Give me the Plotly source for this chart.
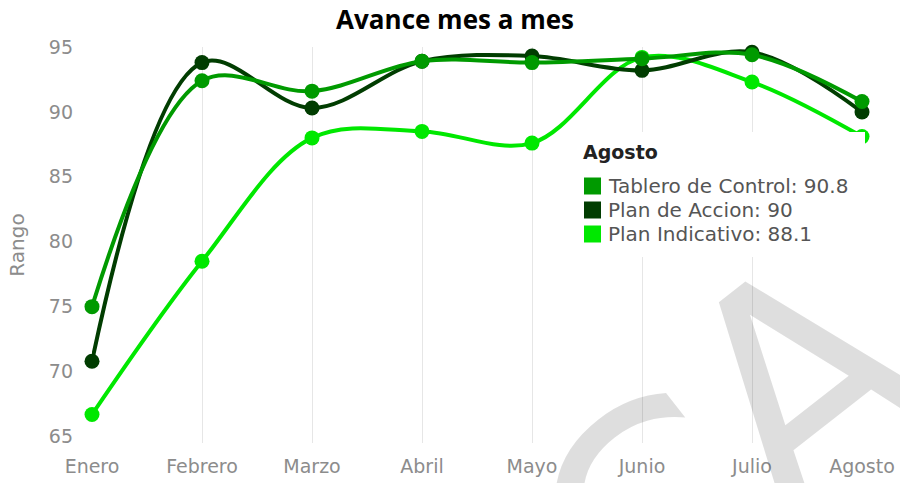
import plotly.graph_objects as go

months = ["Enero", "Febrero", "Marzo", "Abril", "Mayo", "Junio", "Julio", "Agosto"]
tablero = [75.0, 92.4, 91.6, 93.9, 93.8, 94.1, 94.4, 90.8]
accion = [70.8, 93.8, 90.3, 93.9, 94.3, 93.2, 94.6, 90.0]
indicativo = [66.7, 78.5, 88.0, 88.5, 87.6, 94.2, 92.3, 88.1]
y_ticks = [65, 70, 75, 80, 85, 90, 95]
watermark_letters = ["C", "A"]

series = [
    ("Tablero de Control", tablero, "#009a00"),
    ("Plan de Accion", accion, "#013d01"),
    ("Plan Indicativo", indicativo, "#00e800"),
]

fig = go.Figure()
# draw order: Indicativo bottom, Accion, Tablero top
for name, vals, col in [series[2], series[1], series[0]]:
    fig.add_trace(go.Scatter(
        x=months, y=vals, name=name, mode="lines+markers",
        line=dict(color=col, width=4, shape="spline", smoothing=1),
        marker=dict(color=col, size=15),
        cliponaxis=False, showlegend=False, hoverinfo="skip",
    ))

tick_font = dict(family="DejaVu Sans", size=19, color="#8c8c8c")

fig.update_layout(
    width=900, height=483,
    margin=dict(l=92, r=38, t=47, b=40),
    paper_bgcolor="white", plot_bgcolor="white",
    title=dict(text="<b>Avance mes a mes</b>", x=0.5056, xanchor="center",
               y=0.958, yanchor="middle",
               font=dict(family="Open Sans", size=26, color="black")),
    xaxis=dict(type="category", range=[0, 7], showgrid=True, gridcolor="#e6e6e6",
               gridwidth=1, zeroline=False, showline=False, ticks="",
               tickfont=tick_font, ticklabelstandoff=10, automargin=False),
    yaxis=dict(range=[64.5, 95], tickvals=y_ticks, showgrid=False, zeroline=False,
               showline=False, ticks="", tickfont=tick_font, ticklabelstandoff=18,
               automargin=False,
               title=dict(text="Rango", font=dict(family="DejaVu Sans", size=20, color="#8c8c8c"),
                          standoff=18)),
)

# tooltip-like box for the last month
W, H = 770.0, 396.0
def px(xp):
    return (xp - 92) / W
def py(yp):
    return (443 - yp) / H

fig.add_shape(type="rect", xref="paper", yref="paper", layer="above",
              x0=px(570), x1=px(865), y0=py(257), y1=py(132),
              fillcolor="white", line=dict(width=0))
fig.add_annotation(xref="paper", yref="paper", x=px(581), y=py(152), xanchor="left",
                   yanchor="middle", showarrow=False, text="<b>" + months[-1] + "</b>",
                   font=dict(family="DejaVu Sans", size=19, color="#222222"))
rows_y = [186, 210, 234]
for (name, vals, col), ry in zip(series, rows_y):
    fig.add_shape(type="rect", xref="paper", yref="paper", layer="above",
                  x0=px(584), x1=px(601), y0=py(ry + 8.5), y1=py(ry - 8.5),
                  fillcolor=col, line=dict(width=0))
    fig.add_annotation(xref="paper", yref="paper", x=px(606), y=py(ry), xanchor="left",
                       yanchor="middle", showarrow=False,
                       text=f"{name}: {vals[-1]:g}",
                       font=dict(family="DejaVu Sans", size=20, color="#555555"))

# watermark letters (partially visible, rotated)
for letter, (cx, cy) in zip(watermark_letters, [(656, 525), (803, 382)]):
    fig.add_annotation(xref="paper", yref="paper", x=px(cx), y=py(cy), xanchor="center",
                       yanchor="middle", showarrow=False, text=letter, textangle=-38,
                       font=dict(family="DejaVu Sans", size=300, color="rgba(0,0,0,0.13)"))

fig.write_html("out.html", config={"displayModeBar": False},
               post_script="document.body.style.margin='0';")
